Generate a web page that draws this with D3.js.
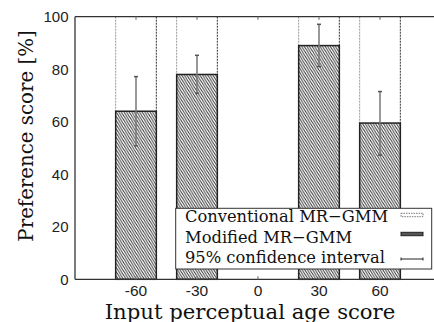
<!DOCTYPE html>
<html>
<head>
<meta charset="utf-8">
<script src="https://cdn.jsdelivr.net/npm/d3@7"></script>
<style>
  body { margin: 0; background: #fff; }
  svg { display: block; }
</style>
</head>
<body>
<svg id="chart" width="434" height="322"></svg>
<script>
// data
const ages = [-60, -30, 30, 60];
const modified = [64, 78, 89, 59.5];
const conventional = [36, 22, 11, 40.5];
const ciLow = [50.8, 70.8, 81, 47.3];
const ciHigh = [77.2, 85.3, 97.1, 71.5];
const xTicks = [-60, -30, 0, 30, 60];
const yTicks = [0, 20, 40, 60, 80, 100];
const legendLabels = ['Conventional MR\u2212GMM', 'Modified MR\u2212GMM', '95% confidence interval'];

const svg = d3.select('#chart');
const serif = '"DejaVu Serif", serif';
const sans = '"Liberation Sans", Arial, sans-serif';

const x = d3.scaleLinear().domain([-90, 90]).range([75, 441]);
const y = d3.scaleLinear().domain([0, 100]).range([279.3, 16.7]);
const barW = x(20) - x(0);

const defs = svg.append('defs');
const hatch = defs
  .append('pattern')
  .attr('id', 'hatch')
  .attr('patternUnits', 'userSpaceOnUse')
  .attr('width', 2.6)
  .attr('height', 4.2);
hatch.append('rect').attr('width', 2.6).attr('height', 4.2).attr('fill', '#fff');
hatch
  .append('path')
  .attr('d', 'M-1.3,-2.1L3.9,6.3M-3.9,-2.1L1.3,6.3M1.3,-2.1L6.5,6.3')
  .attr('stroke', '#2a2a2a')
  .attr('stroke-width', 0.9);

// conventional bars (stacked above, dashed outline)
const conv = svg.append('g');
ages.forEach((a, i) => {
  const x0 = x(a) - barW / 2;
  const yTop = y(modified[i] + conventional[i]);
  const yBot = y(modified[i]);
  conv
    .append('line')
    .attr('x1', x0).attr('x2', x0)
    .attr('y1', yTop).attr('y2', yBot)
    .attr('stroke', '#999')
    .attr('stroke-width', 1)
    .attr('stroke-dasharray', '2,1');
  conv
    .append('line')
    .attr('x1', x0 + barW).attr('x2', x0 + barW)
    .attr('y1', yTop).attr('y2', yBot)
    .attr('stroke', '#333')
    .attr('stroke-width', 1)
    .attr('stroke-dasharray', '2,1');
});

// modified bars
svg
  .append('g')
  .selectAll('rect')
  .data(ages)
  .join('rect')
  .attr('x', d => x(d) - barW / 2)
  .attr('width', barW)
  .attr('y', (d, i) => y(modified[i]))
  .attr('height', (d, i) => y(0) - y(modified[i]))
  .attr('fill', 'url(#hatch)')
  .attr('stroke', '#222')
  .attr('stroke-width', 1.5);

// error bars
const err = svg.append('g').attr('stroke', '#777').attr('stroke-width', 1.5);
ages.forEach((a, i) => {
  err.append('line')
    .attr('x1', x(a)).attr('x2', x(a))
    .attr('y1', y(ciHigh[i])).attr('y2', y(ciLow[i]));
  [ciHigh[i], ciLow[i]].forEach(v => {
    err.append('line')
      .attr('x1', x(a) - 2).attr('x2', x(a) + 2)
      .attr('y1', y(v)).attr('y2', y(v))
      .attr('stroke', '#555');
  });
});

// axes frame
const frame = svg.append('g').attr('stroke', '#333').attr('stroke-width', 1.3);
frame.append('line').attr('x1', x(-90)).attr('x2', 434).attr('y1', y(100)).attr('y2', y(100));
frame.append('line').attr('x1', x(-90)).attr('x2', 434).attr('y1', y(0)).attr('y2', y(0));
frame.append('line').attr('x1', x(-90)).attr('x2', x(-90)).attr('y1', y(0)).attr('y2', y(100));

// inward ticks top and bottom
xTicks.forEach(t => {
  frame.append('line').attr('x1', x(t)).attr('x2', x(t)).attr('y1', y(100)).attr('y2', y(100) + 3)
    .attr('stroke', '#777').attr('stroke-width', 1.2);
  frame.append('line').attr('x1', x(t)).attr('x2', x(t)).attr('y1', y(0)).attr('y2', y(0) - 3)
    .attr('stroke', '#777').attr('stroke-width', 1.2);
});

// tick labels
svg.append('g')
  .selectAll('text')
  .data(xTicks)
  .join('text')
  .attr('x', d => x(d))
  .attr('y', 296)
  .attr('text-anchor', 'middle')
  .attr('font-family', sans)
  .attr('font-size', 15.5)
  .attr('fill', '#222')
  .text(d => d);

svg.append('g')
  .selectAll('text')
  .data(yTicks)
  .join('text')
  .attr('x', 68.5)
  .attr('y', d => y(d) + 5.3)
  .attr('text-anchor', 'end')
  .attr('font-family', sans)
  .attr('font-size', 15)
  .attr('fill', '#222')
  .text(d => d);

// axis titles
svg.append('text')
  .attr('x', 250)
  .attr('y', 319)
  .attr('text-anchor', 'middle')
  .attr('font-family', serif)
  .attr('font-size', 21.2)
  .attr('fill', '#111')
  .text('Input perceptual age score');

svg.append('text')
  .attr('transform', 'translate(33,136) rotate(-90)')
  .attr('text-anchor', 'middle')
  .attr('font-family', serif)
  .attr('font-size', 19.8)
  .attr('fill', '#111')
  .text('Preference score [%]');

// legend
const lg = svg.append('g');
lg.append('rect')
  .attr('x', 175.7).attr('y', 208.3)
  .attr('width', 256).attr('height', 60.7)
  .attr('fill', '#fff')
  .attr('stroke', '#333')
  .attr('stroke-width', 1);
legendLabels.forEach((lab, i) => {
  const by = 222 + i * 20.7;
  lg.append('text')
    .attr('x', 185)
    .attr('y', by)
    .attr('font-family', serif)
    .attr('font-size', 16.3)
    .attr('fill', '#111')
    .text(lab);
});
lg.append('rect')
  .attr('x', 401).attr('y', 213.3).attr('width', 22).attr('height', 3.4)
  .attr('fill', '#fff').attr('stroke', '#555').attr('stroke-width', 0.8).attr('stroke-dasharray', '1.5,1');
lg.append('rect')
  .attr('x', 401).attr('y', 232.3).attr('width', 22).attr('height', 3.4)
  .attr('fill', '#555').attr('stroke', '#222').attr('stroke-width', 1);
lg.append('line')
  .attr('x1', 401).attr('x2', 423).attr('y1', 259).attr('y2', 259)
  .attr('stroke', '#222').attr('stroke-width', 1);
[401, 423].forEach(cx => {
  lg.append('line')
    .attr('x1', cx).attr('x2', cx).attr('y1', 257.5).attr('y2', 260.5)
    .attr('stroke', '#222').attr('stroke-width', 1);
});
</script>
</body>
</html>
